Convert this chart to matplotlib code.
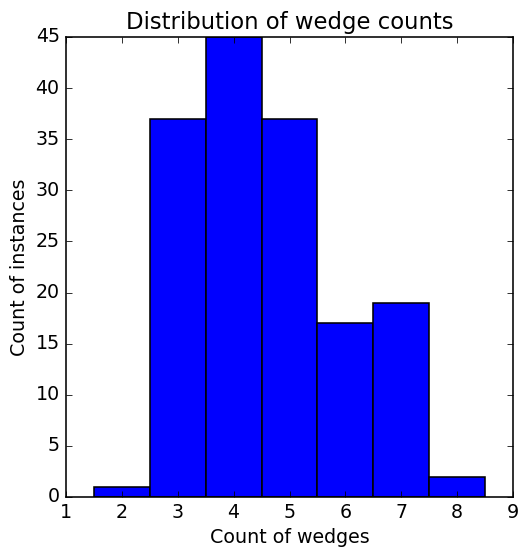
import matplotlib
matplotlib.use('Agg')
import matplotlib.pyplot as plt

# number of wedges per instance and how often each occurs
wedges = [2, 3, 4, 5, 6, 7, 8]
counts = [1, 37, 45, 37, 17, 19, 2]

plt.style.use('classic')
DPI = 114
fig = plt.figure(figsize=(518/DPI, 547/DPI), dpi=DPI)
fig.patch.set_facecolor('white')
ax = fig.add_axes([66/518, 1-497/547, (513-66)/518, (497-37)/547])

ax.bar(wedges, counts, width=1.0, align='center', color='b', edgecolor='k')
ax.set_xlim(1, 9)
ax.set_ylim(0, 45)
ax.set_xticks(range(1, 10))
ax.set_yticks(range(0, 46, 5))
ax.set_title('Distribution of wedge counts')
ax.set_xlabel('Count of wedges', labelpad=3.5)
ax.set_ylabel('Count of instances', labelpad=4)

fig.savefig('out.png', dpi=DPI, facecolor='white')
